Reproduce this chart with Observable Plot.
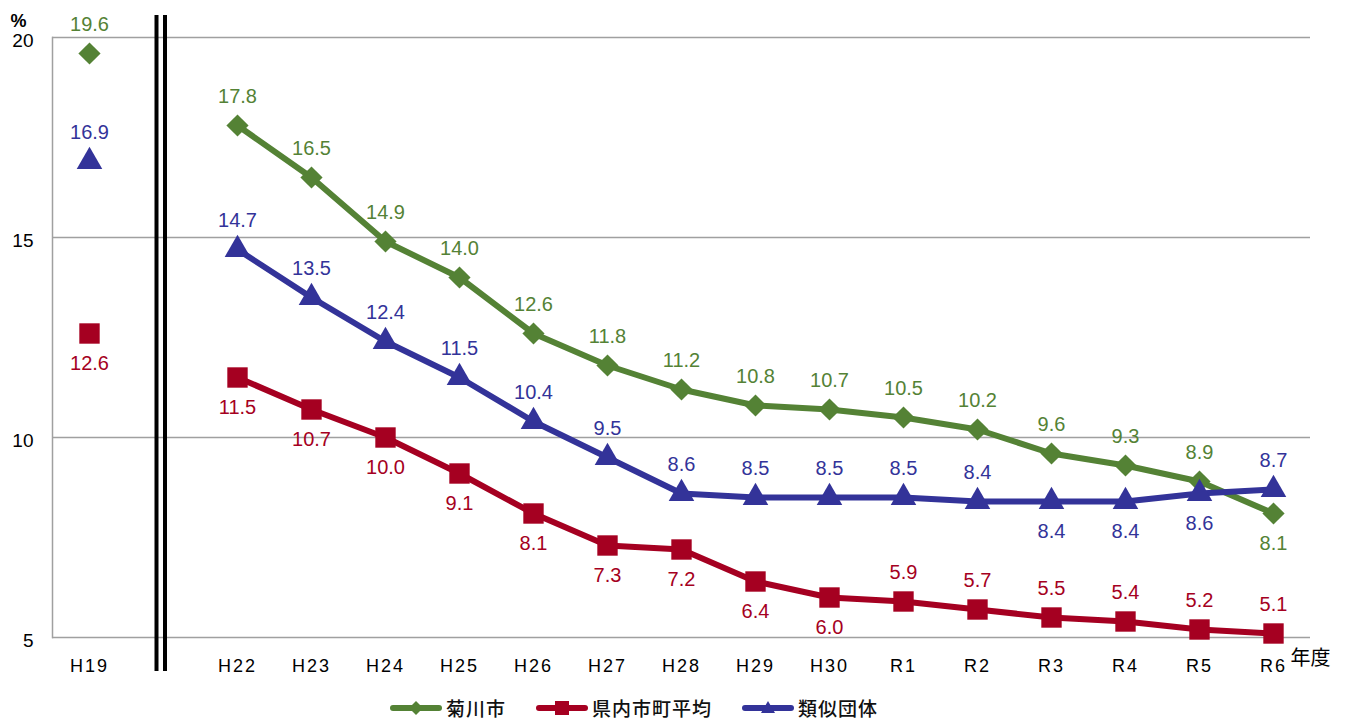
<!DOCTYPE html>
<html><head><meta charset="utf-8">
<script src="https://cdn.jsdelivr.net/npm/d3@7"></script>
<script src="https://cdn.jsdelivr.net/npm/@observablehq/plot@0.6"></script>
<style>
html,body{margin:0;padding:0;background:#fff;}
#wrap{position:relative;width:1352px;height:720px;}
svg g[aria-label="x-axis tick label"] text{letter-spacing:2px;}
#legend{position:absolute;left:390px;top:694px;display:flex;align-items:center;font-family:"Noto Sans CJK JP",sans-serif;font-size:19px;font-weight:500;letter-spacing:1px;color:#111;}
#legend .item{display:flex;align-items:center;margin-right:30px;}
#legend svg{margin-right:4px;}
</style></head>
<body><div id="wrap"><div id="chart"></div><div id="legend"></div></div>
<script>
const years = ["H19","H22","H23","H24","H25","H26","H27","H28","H29","H30","R1","R2","R3","R4","R5","R6"];
const seriesNames = ["菊川市","県内市町平均","類似団体"];
const seriesColors = ["#548235","#A50021","#333399"];
const kikugawa = [19.6,17.8,16.5,14.9,14.0,12.6,11.8,11.2,10.8,10.7,10.5,10.2,9.6,9.3,8.9,8.1];
const prefAvg  = [12.6,11.5,10.7,10.0,9.1,8.1,7.3,7.2,6.4,6.0,5.9,5.7,5.5,5.4,5.2,5.1];
const similar  = [16.9,14.7,13.5,12.4,11.5,10.4,9.5,8.6,8.5,8.5,8.5,8.4,8.4,8.4,8.6,8.7];
const yTicks = [5,10,15,20];
const GAP = "\u2009";

const valuesBySeries = [kikugawa, prefAvg, similar];
const data = [];
seriesNames.forEach((s, si) => valuesBySeries[si].forEach((v, i) => data.push({series: s, year: years[i], value: v})));

function labelBelow(d) {
  if (d.series === "菊川市") return d.year === "R6";
  if (d.series === "類似団体") return ["R3","R4","R5"].includes(d.year);
  return !years.slice(10).includes(d.year);
}
const xDomain = [years[0], GAP, ...years.slice(1)];
const lineData = data.filter(d => d.year !== years[0]);
const symbols = {"菊川市": ["diamond2", 10], "県内市町平均": ["square", 11.5], "類似団体": ["triangle", 9.5]};
const drawOrder = ["県内市町平均","菊川市","類似団体"];
const numFont = "'Liberation Sans', Arial, sans-serif";

const marks = [
  Plot.ruleY(yTicks, {y: d => d, stroke: "#a0a0a0", strokeWidth: 1.5}),
  Plot.frame({anchor: "left", stroke: "#a0a0a0", strokeWidth: 1.5}),
  Plot.axisY(yTicks, {tickSize: 0, tickPadding: 19, fontSize: 19, dy: 3, fill: "#000", label: null}),
  Plot.axisX(years, {tickSize: 0, tickPadding: 22, fontSize: 18, fill: "#000", label: null}),
  Plot.ruleX([GAP], {dx: -7, stroke: "#000", strokeWidth: 4, insetTop: -22, insetBottom: -34}),
  Plot.ruleX([GAP], {dx: 1.5, stroke: "#000", strokeWidth: 4, insetTop: -22, insetBottom: -34}),
  Plot.text(["%"], {frameAnchor: "top-left", dx: -42, dy: -23, textAnchor: "start", fontSize: 18, fontWeight: "bold", fill: "#000"}),
  Plot.text(["年度"], {frameAnchor: "bottom-right", dx: -20, dy: 27, textAnchor: "start", fontSize: 20, fontFamily: "'Noto Sans CJK JP', sans-serif", fill: "#000"})
];
for (const s of drawOrder) {
  const rows = lineData.filter(d => d.series === s);
  marks.push(Plot.line(rows, {x: "year", y: "value", stroke: "series", strokeWidth: 6, strokeLinejoin: "round"}));
}
for (const s of drawOrder) {
  const rows = data.filter(d => d.series === s);
  marks.push(Plot.dot(rows, {x: "year", y: "value", fill: "series", symbol: () => symbols[s][0], r: symbols[s][1], stroke: null}));
}
marks.push(
  Plot.text(data.filter(d => !labelBelow(d)), {x: "year", y: "value", text: d => d.value.toFixed(1), fill: "series", dy: -29, lineAnchor: "middle", fontSize: 20}),
  Plot.text(data.filter(d => labelBelow(d)), {x: "year", y: "value", text: d => d.value.toFixed(1), fill: "series", dy: 30, lineAnchor: "middle", fontSize: 20})
);

const chart = Plot.plot({
  width: 1352, height: 690,
  marginLeft: 52, marginRight: 42, marginTop: 37, marginBottom: 53,
  style: {fontFamily: numFont, fontSize: "18px", background: "#fff", color: "#000"},
  x: {type: "point", domain: xDomain, padding: 0.5, axis: null},
  y: {domain: [5, 20], axis: null},
  color: {domain: seriesNames, range: seriesColors},
  symbol: {type: "identity"},
  marks
});
document.getElementById("chart").appendChild(chart);

// legend
const legend = document.getElementById("legend");
const legendSym = {
  "菊川市": '<path d="M26,3 L33,10 L26,17 L19,10 Z"/>',
  "県内市町平均": '<rect x="19" y="3" width="14" height="14"/>',
  "類似団体": '<path d="M26,3 L33,15 L19,15 Z"/>'
};
seriesNames.forEach((s, i) => {
  const item = document.createElement("div");
  item.className = "item";
  item.innerHTML = `<svg width="52" height="20"><line x1="3" y1="10" x2="49" y2="10" stroke="${seriesColors[i]}" stroke-width="6" stroke-linecap="round"/><g fill="${seriesColors[i]}">${legendSym[s]}</g></svg><span>${s}</span>`;
  legend.appendChild(item);
});
</script></body></html>
